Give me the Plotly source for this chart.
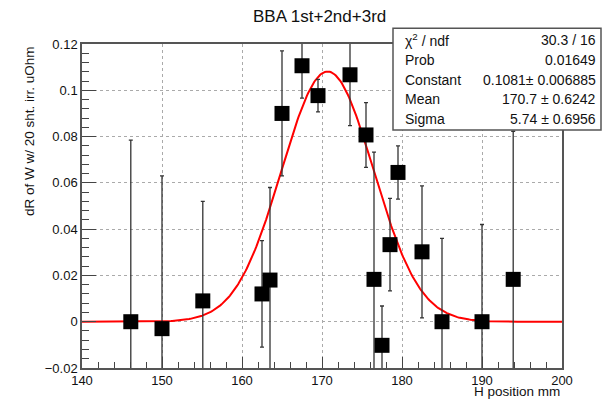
import numpy as np
import plotly.graph_objects as go

# Data points (H position, dR, error)
x_pos = [146.1, 150.0, 155.1, 162.5, 163.5, 165.0, 167.5, 169.5, 173.5, 175.5,
         176.5, 177.5, 178.5, 179.5, 182.5, 185.0, 190.0, 193.9]
y_val = [0.0, -0.003, 0.009, 0.012, 0.018, 0.090, 0.1106, 0.0977, 0.1067, 0.0807,
         0.0183, -0.0102, 0.0333, 0.0645, 0.0302, 0.0, 0.0, 0.0183]
y_err = [0.0785, 0.066, 0.043, 0.023, 0.040, 0.027, 0.014, 0.007, 0.022, 0.014,
         0.055, 0.017, 0.020, 0.0115, 0.0285, 0.036, 0.042, 0.064]

# Gaussian fit parameters (from stats box)
fit_const = 0.1081
fit_mean = 170.7
fit_sigma = 5.74

stats_labels = ["χ<sup>2</sup> / ndf", "Prob", "Constant", "Mean", "Sigma"]
stats_values = ["30.3 / 16", "0.01649", "0.1081± 0.006885", "170.7 ± 0.6242", "5.74 ± 0.6956"]

FONT = "Liberation Sans, Arial, Helvetica, sans-serif"

xf = np.linspace(140, 200, 400)
yf = fit_const * np.exp(-0.5 * ((xf - fit_mean) / fit_sigma) ** 2)

fig = go.Figure()
fig.add_trace(go.Scatter(x=xf, y=yf, mode="lines",
                         line=dict(color="#ff0000", width=2), hoverinfo="skip"))
fig.add_trace(go.Scatter(
    x=x_pos, y=y_val, mode="markers",
    marker=dict(symbol="square", size=15, color="black"),
    error_y=dict(type="data", array=y_err, visible=True, color="#333333",
                 thickness=1.3, width=2),
))

L, R, T, B = 82, 48, 44, 28
W, H = 610, 400
pw, ph = W - L - R, H - T - B

def px2x(px):
    return (px - L) / pw

def py2y(py):
    return (H - B - py) / ph

axis_common = dict(
    showline=True, linecolor="#555555", linewidth=1.5, mirror=True,
    showgrid=True, gridcolor="#aaaaaa", griddash="dot", gridwidth=1,
    zeroline=False, ticks="inside", tickcolor="#444444",
    tickfont=dict(family=FONT, size=13, color="#111111"),
)

fig.update_xaxes(range=[140, 200], dtick=10, tick0=140, ticklen=11,
                 minor=dict(dtick=2, ticks="inside", ticklen=6, tickcolor="#444444", showgrid=False),
                 **axis_common)
fig.update_yaxes(range=[-0.02, 0.12], dtick=0.02, tick0=0, ticklen=14,
                 minor=dict(dtick=0.004, ticks="inside", ticklen=7, tickcolor="#444444", showgrid=False),
                 **axis_common)

annotations = [
    dict(text="BBA 1st+2nd+3rd", xref="paper", yref="paper", x=px2x(319), y=py2y(16),
         xanchor="center", yanchor="middle", showarrow=False,
         font=dict(family=FONT, size=17, color="#111111")),
    dict(text="H position mm", xref="paper", yref="paper", x=1.0, y=0,
         xanchor="right", yanchor="top", yshift=-14, showarrow=False,
         font=dict(family=FONT, size=13.5, color="#111111")),
    dict(text="dR of W w/ 20 sht. irr. uOhm", xref="paper", yref="paper", x=px2x(29), y=1.0,
         xanchor="center", yanchor="top", textangle=-90, showarrow=False,
         font=dict(family=FONT, size=13.5, color="#111111")),
]

row_y = [40, 60, 80, 100, 120]
for lab, val, ry in zip(stats_labels, stats_values, row_y):
    annotations.append(dict(text=lab, xref="paper", yref="paper", x=px2x(403), y=py2y(ry),
                            xanchor="left", yanchor="middle", showarrow=False,
                            font=dict(family=FONT, size=14, color="#111111")))
    annotations.append(dict(text=val, xref="paper", yref="paper", x=px2x(598), y=py2y(ry),
                            xanchor="right", yanchor="middle", showarrow=False,
                            font=dict(family=FONT, size=14, color="#111111")))

fig.update_layout(
    width=W, height=H, margin=dict(l=L, r=R, t=T, b=B),
    paper_bgcolor="white", plot_bgcolor="white", showlegend=False,
    annotations=annotations,
    shapes=[dict(type="rect", xref="paper", yref="paper",
                 x0=px2x(393), x1=px2x(601), y0=py2y(131), y1=py2y(28),
                 line=dict(color="#555555", width=1.5), fillcolor="white", layer="above")],
)

fig.write_html("out.html")
